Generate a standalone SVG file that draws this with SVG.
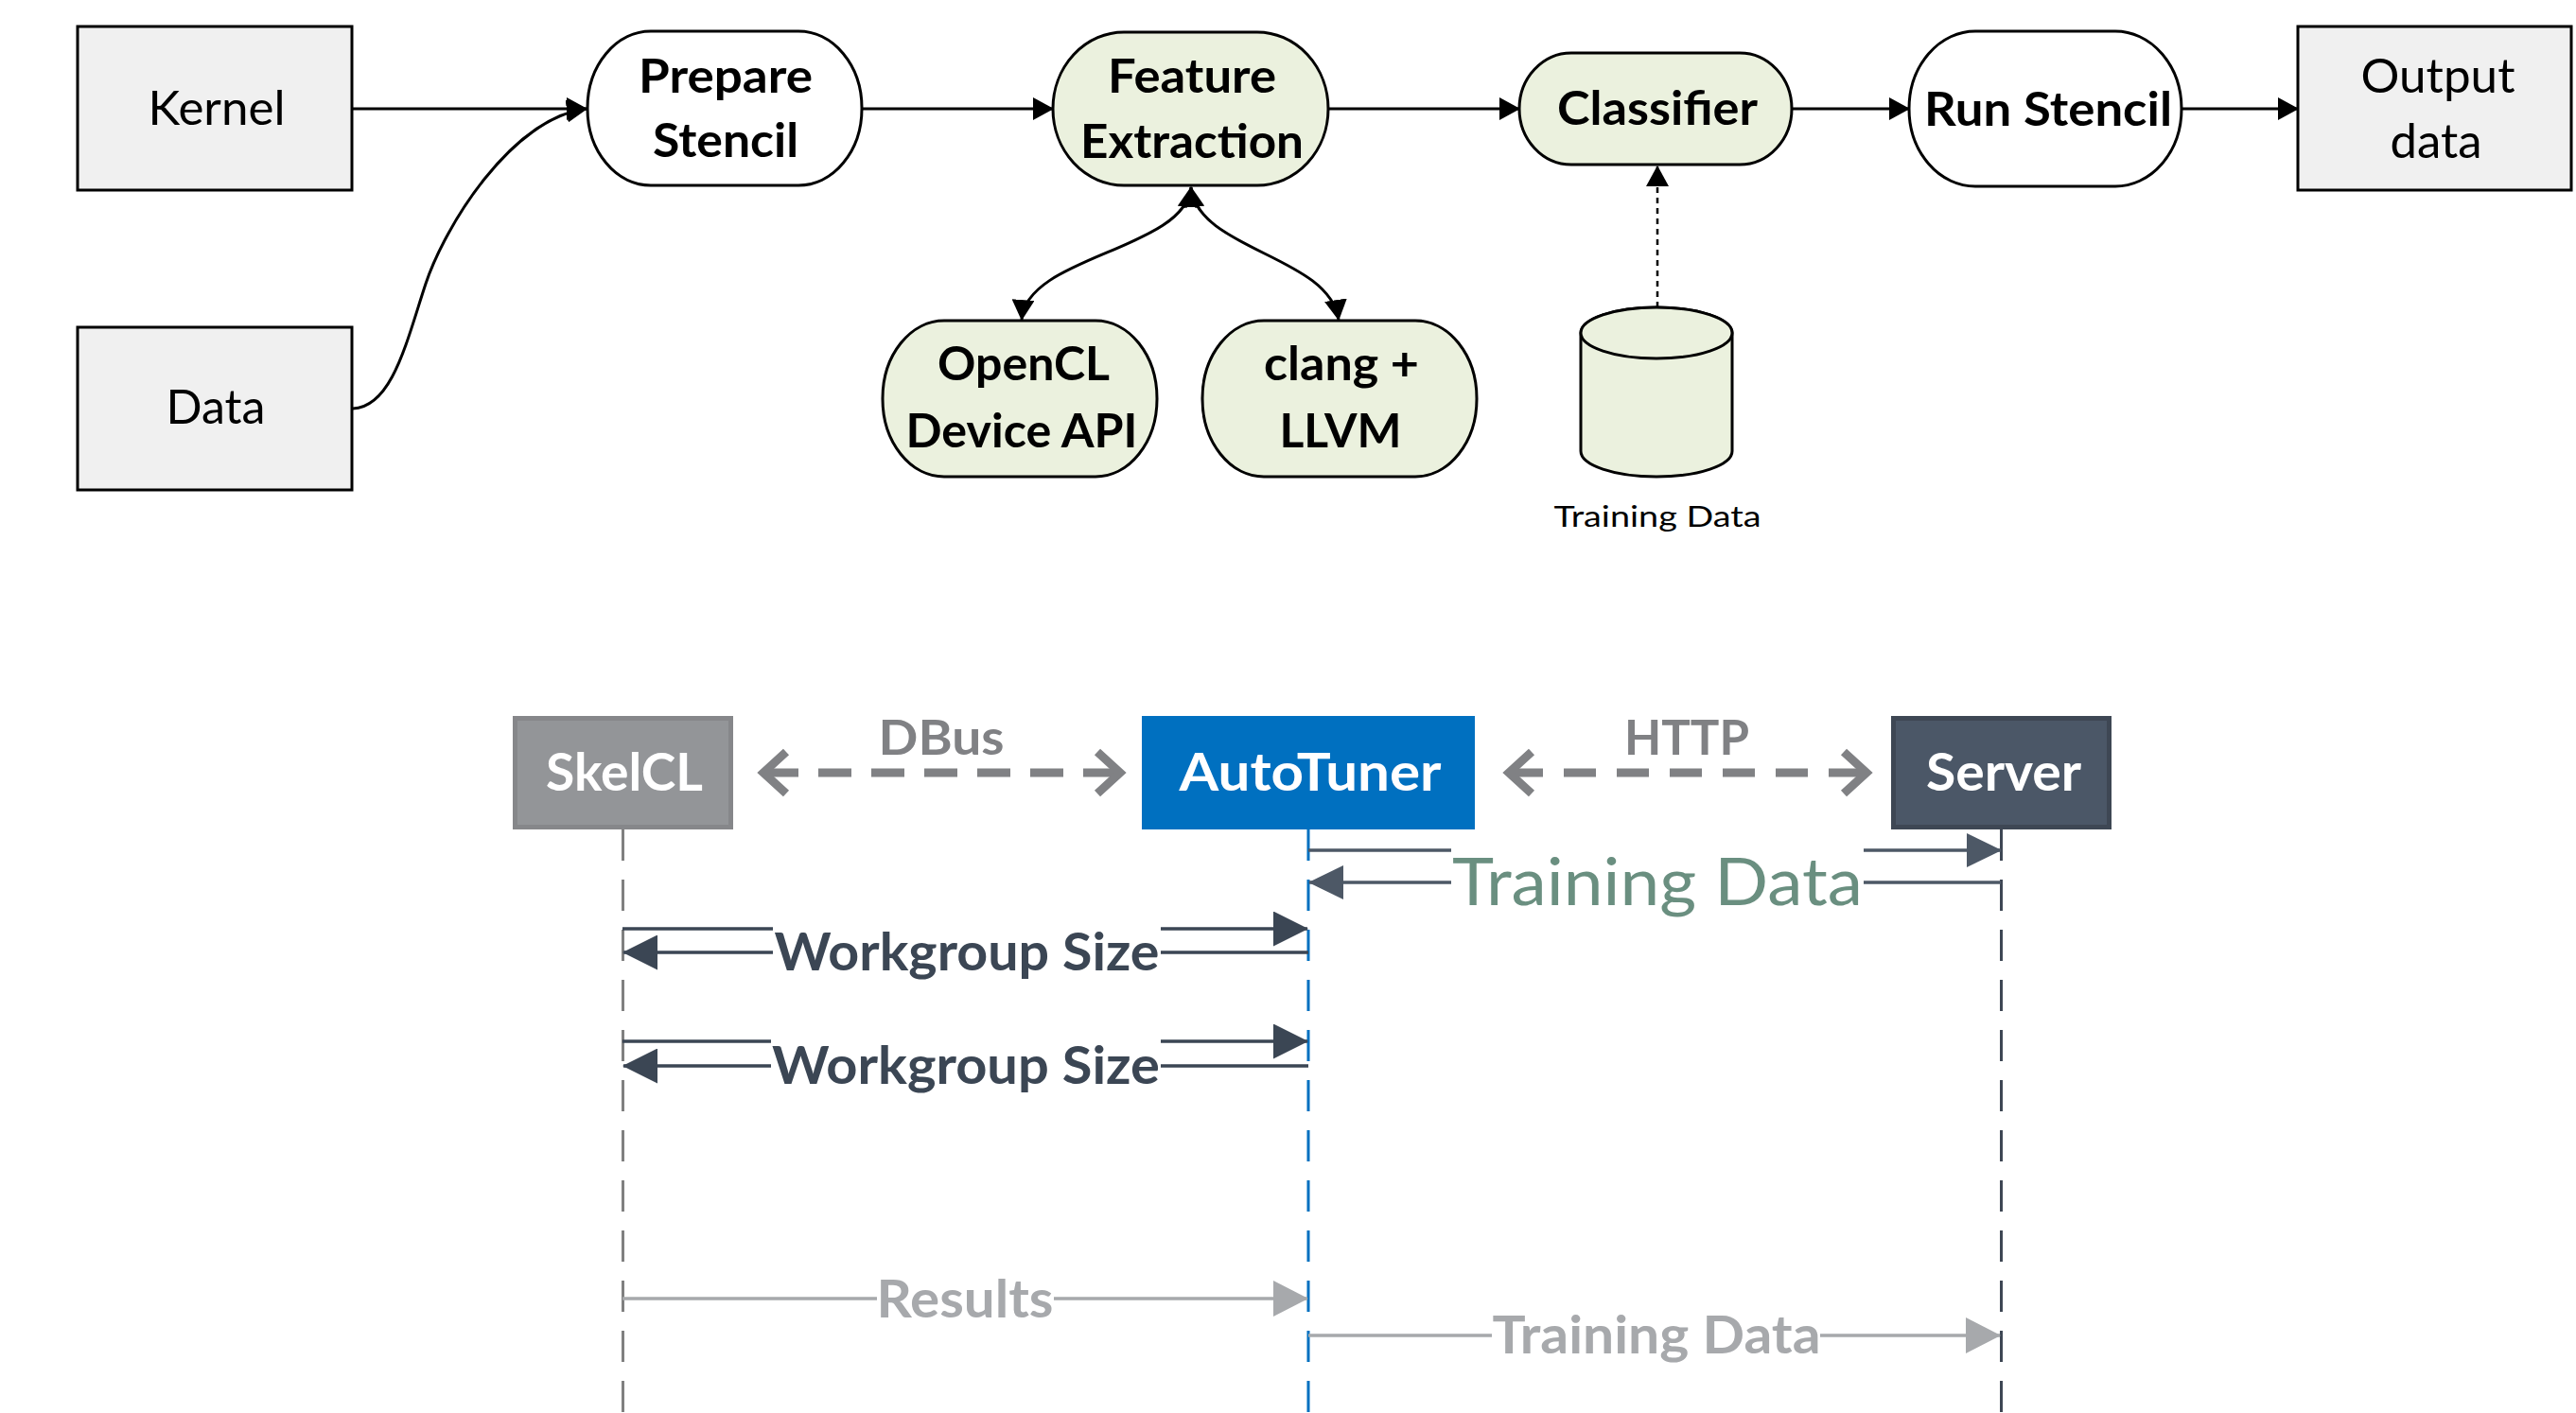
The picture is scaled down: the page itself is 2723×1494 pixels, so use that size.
<svg xmlns="http://www.w3.org/2000/svg" width="2723" height="1494" viewBox="0 0 2723 1494">
<style>
.box{fill:#F0F0F0;stroke:#000;stroke-width:3}
.pill{fill:#fff;stroke:#000;stroke-width:3}
.green{fill:#EBF1DE;stroke:#000;stroke-width:3}
text{font-family:Lato,"Open Sans","Liberation Sans",sans-serif;text-anchor:middle}
.reg{font-size:51px;fill:#000}
.bold{font-size:50px;font-weight:bold;fill:#000}
.small{font-size:31px;fill:#000}
.hdr{font-size:56px;font-weight:bold;fill:#fff}
.proto{font-size:52px;font-weight:bold;fill:#808184}
.wl{fill:none;stroke:#000;stroke-width:3}
.life{fill:none;stroke-width:3;stroke-dasharray:33 20}
.msg{fill:none;stroke-width:3.5}
</style>
<defs>
<marker id="mBlack" markerUnits="userSpaceOnUse" markerWidth="22" markerHeight="24" refX="21" refY="12" orient="auto-start-reverse"><path d="M0,0 L22,12 L0,24 z" fill="#000"/></marker>
<marker id="mSlate" markerUnits="userSpaceOnUse" markerWidth="37" markerHeight="37" refX="36" refY="18.5" orient="auto"><path d="M0,0 L37,18.5 L0,37 z" fill="#3B4654"/></marker>
<marker id="mSlate2" markerUnits="userSpaceOnUse" markerWidth="37" markerHeight="36" refX="36" refY="18" orient="auto"><path d="M0,0 L37,18 L0,36 z" fill="#4D5866"/></marker>
<marker id="mGray" markerUnits="userSpaceOnUse" markerWidth="37" markerHeight="38" refX="36" refY="19" orient="auto"><path d="M0,0 L37,19 L0,38 z" fill="#A7A9AC"/></marker>
</defs>

<g id="connectors">
<path class="wl" d="M372,115 H620" marker-end="url(#mBlack)"/>
<path class="wl" d="M373,432 C415,430 430,360 450,300 C470,240 540,125 620,115" marker-end="url(#mBlack)"/>
<path class="wl" d="M911,115 H1113" marker-end="url(#mBlack)"/>
<path class="wl" d="M1404,115 H1606" marker-end="url(#mBlack)"/>
<path class="wl" d="M1894,115 H2018" marker-end="url(#mBlack)"/>
<path class="wl" d="M2306,115 H2429" marker-end="url(#mBlack)"/>
<path class="wl" d="M1259,198 C1252,265 1085,270 1080,338" marker-start="url(#mBlack)" marker-end="url(#mBlack)"/>
<path class="wl" d="M1259,198 C1266,265 1405,270 1415,338" marker-start="url(#mBlack)" marker-end="url(#mBlack)"/>
<path d="M1752,325 V176" fill="none" stroke="#000" stroke-width="2.5" stroke-dasharray="6 5" marker-end="url(#mBlack)"/>

<line class="life" x1="658.5" y1="877" x2="658.5" y2="1494" stroke="#808080"/>
<line class="life" x1="1383" y1="877" x2="1383" y2="1494" stroke="#0070C0"/>
<line class="life" x1="2115.5" y1="877" x2="2115.5" y2="1494" stroke="#3E4754"/>

<line x1="809" y1="817" x2="1180" y2="817" stroke="#808184" stroke-width="9" stroke-dasharray="35 21"/>
<polyline points="831,795 807,817 831,839" fill="none" stroke="#808184" stroke-width="9"/>
<polyline points="1160,795 1184,817 1160,839" fill="none" stroke="#808184" stroke-width="9"/>
<line x1="1597" y1="817" x2="1968" y2="817" stroke="#808184" stroke-width="9" stroke-dasharray="34 22"/>
<polyline points="1619,795 1595,817 1619,839" fill="none" stroke="#808184" stroke-width="9"/>
<polyline points="1949,795 1973,817 1949,839" fill="none" stroke="#808184" stroke-width="9"/>

<path class="msg" stroke="#4D5866" d="M1383,899 H1534 M1970,899 H2115" marker-end="url(#mSlate2)"/>
<path class="msg" stroke="#4D5866" d="M2115,933 H1970 M1534,933 H1384" marker-end="url(#mSlate2)"/>
<path class="msg" stroke="#3B4654" d="M658,982 H817 M1227,982 H1382" marker-end="url(#mSlate)"/>
<path class="msg" stroke="#3B4654" d="M1383,1007 H1227 M817,1007 H659" marker-end="url(#mSlate)"/>
<path class="msg" stroke="#3B4654" d="M658,1101 H815 M1227,1101 H1382" marker-end="url(#mSlate)"/>
<path class="msg" stroke="#3B4654" d="M1383,1127 H1227 M815,1127 H659" marker-end="url(#mSlate)"/>
<path class="msg" stroke="#A7A9AC" d="M658,1373 H927 M1114,1373 H1382" marker-end="url(#mGray)"/>
<path class="msg" stroke="#A7A9AC" d="M1383,1412 H1577 M1924,1412 H2114" marker-end="url(#mGray)"/>

<text x="1752" y="957" font-size="70" fill="#6A8F80" textLength="434" lengthAdjust="spacingAndGlyphs">Training Data</text>
<text x="1022" y="1026" font-size="56" font-weight="bold" fill="#3B4654" textLength="407" lengthAdjust="spacingAndGlyphs">Workgroup Size</text>
<text x="1021" y="1146" font-size="56" font-weight="bold" fill="#3B4654" textLength="410" lengthAdjust="spacingAndGlyphs">Workgroup Size</text>
<text x="1020" y="1393" font-size="56" font-weight="bold" fill="#A7A9AC" textLength="187" lengthAdjust="spacingAndGlyphs">Results</text>
<text x="1751" y="1431" font-size="56" font-weight="bold" fill="#A7A9AC" textLength="347" lengthAdjust="spacingAndGlyphs">Training Data</text>
<text class="proto" x="995" y="798" textLength="133" lengthAdjust="spacingAndGlyphs">DBus</text>
<text class="proto" x="1783" y="798" textLength="132" lengthAdjust="spacingAndGlyphs">HTTP</text>
</g>

<g id="kernel">
<rect class="box" x="82" y="28" width="290" height="173"/>
<text class="reg" x="229" y="132" textLength="145" lengthAdjust="spacingAndGlyphs">Kernel</text>
</g>
<g id="data">
<rect class="box" x="82" y="346" width="290" height="172"/>
<text class="reg" x="228" y="448" textLength="105" lengthAdjust="spacingAndGlyphs">Data</text>
</g>
<g id="prepare-stencil">
<rect class="pill" x="621" y="33" width="290" height="163" rx="67" ry="81"/>
<text class="bold" x="767" y="98" textLength="184" lengthAdjust="spacingAndGlyphs">Prepare</text>
<text class="bold" x="767" y="166" textLength="154" lengthAdjust="spacingAndGlyphs">Stencil</text>
</g>
<g id="feature-extraction">
<rect class="green" x="1113" y="34" width="291" height="162" rx="75" ry="81"/>
<text class="bold" x="1260" y="98" textLength="178" lengthAdjust="spacingAndGlyphs">Feature</text>
<text class="bold" x="1260" y="167" textLength="236" lengthAdjust="spacingAndGlyphs">Extraction</text>
</g>
<g id="classifier">
<rect class="green" x="1606" y="56" width="288" height="118" rx="55" ry="59"/>
<text class="bold" x="1752" y="132" textLength="212" lengthAdjust="spacingAndGlyphs">Classifier</text>
</g>
<g id="run-stencil">
<rect class="pill" x="2018" y="33" width="288" height="164" rx="70" ry="82"/>
<text class="bold" x="2165" y="133" textLength="262" lengthAdjust="spacingAndGlyphs">Run Stencil</text>
</g>
<g id="output-data">
<rect class="box" x="2429" y="28" width="289" height="173"/>
<text class="reg" x="2577" y="98" textLength="163" lengthAdjust="spacingAndGlyphs">Output</text>
<text class="reg" x="2575" y="167" textLength="97" lengthAdjust="spacingAndGlyphs">data</text>
</g>
<g id="opencl">
<rect class="green" x="933" y="339" width="290" height="165" rx="65" ry="82"/>
<text class="bold" x="1082" y="402" textLength="182" lengthAdjust="spacingAndGlyphs">OpenCL</text>
<text class="bold" x="1080" y="473" textLength="245" lengthAdjust="spacingAndGlyphs">Device API</text>
</g>
<g id="clang-llvm">
<rect class="green" x="1271" y="339" width="290" height="165" rx="65" ry="82"/>
<text class="bold" x="1418" y="402" textLength="164" lengthAdjust="spacingAndGlyphs">clang +</text>
<text class="bold" x="1417" y="473" textLength="129" lengthAdjust="spacingAndGlyphs">LLVM</text>
</g>
<g id="training-data-db">
<path class="green" d="M1671,352 V477 A80,27 0 0 0 1831,477 V352 A80,27 0 0 0 1671,352 Z"/>
<ellipse class="green" cx="1751" cy="352" rx="80" ry="27"/>
<text class="small" x="1752" y="557" textLength="219" lengthAdjust="spacingAndGlyphs">Training Data</text>
</g>

<g id="skelcl">
<rect x="544.5" y="759.5" width="228" height="115" fill="#939598" stroke="#86878A" stroke-width="5"/>
<text class="hdr" x="660" y="836" textLength="166" lengthAdjust="spacingAndGlyphs">SkelCL</text>
</g>
<g id="autotuner">
<rect x="1207" y="757" width="352" height="120" fill="#0070C0"/>
<text class="hdr" x="1385" y="836" textLength="277" lengthAdjust="spacingAndGlyphs">AutoTuner</text>
</g>
<g id="server">
<rect x="2001.5" y="759.5" width="228" height="115" fill="#4B5767" stroke="#3E4754" stroke-width="5"/>
<text class="hdr" x="2118" y="836" textLength="164" lengthAdjust="spacingAndGlyphs">Server</text>
</g>
</svg>
